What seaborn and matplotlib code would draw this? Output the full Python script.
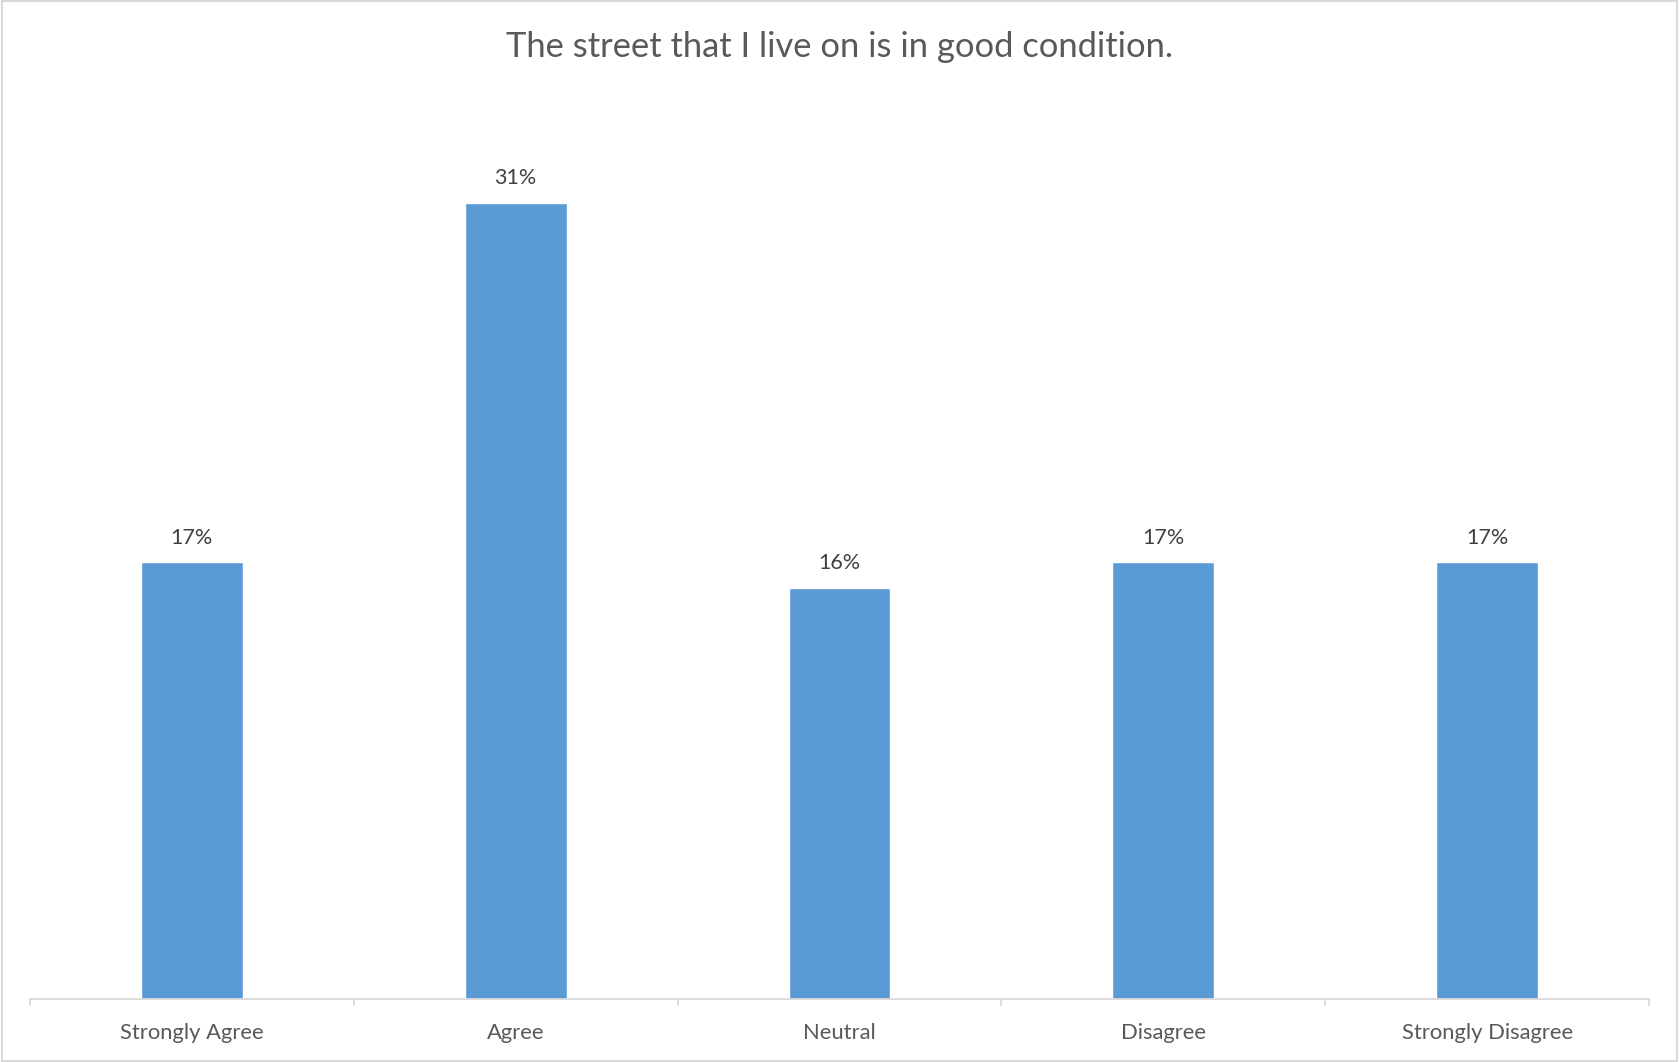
import matplotlib
matplotlib.use("Agg")
import matplotlib.pyplot as plt
import seaborn as sns
import pandas as pd
from matplotlib.ticker import FixedLocator

categories = ["Strongly Agree", "Agree", "Neutral", "Disagree", "Strongly Disagree"]
values = [0.17, 0.31, 0.16, 0.17, 0.17]
labels = ["17%", "31%", "16%", "17%", "17%"]
title = "The street that I live on is in good condition."

sns.set_theme(style="white")
plt.rcParams['font.family'] = ['Lato', 'DejaVu Sans']

df = pd.DataFrame({"cat": categories, "val": values})

W, H = 1679, 1062
fig = plt.figure(figsize=(W / 100, H / 100), dpi=100)
fig.patch.set_facecolor("white")
ax = fig.add_axes([30 / W, 1 - 999 / H, (1649 - 30) / W, (999 - 100) / H])

sns.barplot(data=df, x="cat", y="val", color="#5B9BD5", width=0.315,
            saturation=1, ax=ax)
ax.set_ylim(0, 0.35)
ax.set_xlim(-0.5, len(categories) - 0.5)

for i, (v, lab) in enumerate(zip(values, labels)):
    ax.annotate(lab, (i, v), xytext=(0, 10.5), textcoords="offset points",
                ha="center", va="bottom", fontsize=15.5, color="#404040")

ax.set_xlabel("")
ax.set_ylabel("")
ax.set_yticks([])
for s in ["top", "right", "left"]:
    ax.spines[s].set_visible(False)
ax.spines["bottom"].set_color("#D9D9D9")
ax.spines["bottom"].set_linewidth(1.3)
ax.tick_params(axis="x", which="major", length=0, pad=17, labelsize=15.8,
               labelcolor="#595959")
ax.xaxis.set_minor_locator(FixedLocator([i - 0.5 for i in range(len(categories) + 1)]))
ax.tick_params(axis="x", which="minor", bottom=True, length=5, width=1.3,
               color="#D9D9D9", direction="out")

fig.text(0.5, 1 - 47 / H, title, ha="center", va="center", fontsize=24.8,
         color="#595959")

# outer chart border
fig.add_artist(plt.Rectangle((0.001, 0.001), 0.998, 0.998, transform=fig.transFigure,
                             fill=False, edgecolor="#D9D9D9", linewidth=1.5))

fig.savefig("out.png", dpi=100, facecolor="white")
